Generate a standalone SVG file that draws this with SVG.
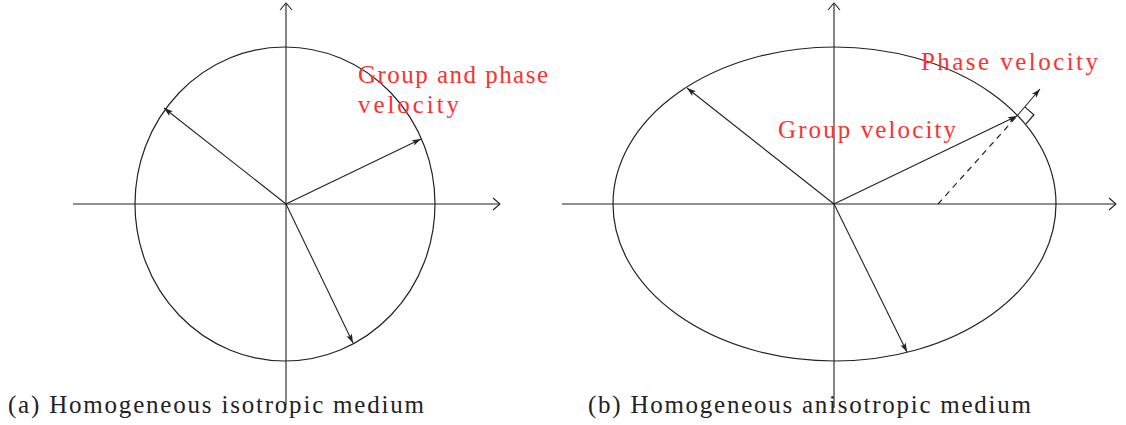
<svg xmlns="http://www.w3.org/2000/svg" width="1126" height="425" viewBox="0 0 1126 425">
<style>
.ln{stroke:#222;stroke-width:1.2;fill:none}
.vec{stroke:#222;stroke-width:1.1;fill:none;marker-end:url(#fa)}
.ax{stroke:#222;stroke-width:1.1;fill:none;marker-end:url(#oa)}
.lbl{font-family:"Liberation Serif","DejaVu Serif",serif;font-size:25px;fill:#ff3030}
.cap{font-family:"Liberation Serif","DejaVu Serif",serif;font-size:25px;fill:#222}
</style>
<defs>
<marker id="fa" markerWidth="10" markerHeight="8" refX="9" refY="4" orient="auto" markerUnits="userSpaceOnUse">
<path d="M0,1 L9,4 L0,7 L2,4 Z" fill="#222"/>
</marker>
<marker id="oa" markerWidth="10" markerHeight="14" refX="8" refY="7" orient="auto" markerUnits="userSpaceOnUse">
<path d="M1,1 L8,7 L1,13" fill="none" stroke="#222" stroke-width="1.1"/>
</marker>
</defs>
<g id="left">
<g id="left-axes">
<line class="ax" x1="73" y1="204" x2="500" y2="204"/>
<line class="ax" x1="286" y1="405" x2="286" y2="3"/>
</g>
<ellipse id="left-circle" class="ln" cx="285" cy="204" rx="150" ry="157"/>
<g id="left-vectors">
<line class="vec" x1="286" y1="204" x2="164" y2="108"/>
<line class="vec" x1="286" y1="204" x2="421" y2="139"/>
<line class="vec" x1="286" y1="204" x2="353" y2="343"/>
</g>
<text class="lbl" x="358" y="83" textLength="190" lengthAdjust="spacing">Group and phase</text>
<text class="lbl" x="358" y="113" textLength="101" lengthAdjust="spacing">velocity</text>
<text class="cap" x="8" y="413" textLength="416" lengthAdjust="spacing">(a) Homogeneous isotropic medium</text>
</g>
<g id="right">
<g id="right-axes">
<line class="ax" x1="562" y1="204" x2="1116" y2="204"/>
<line class="ax" x1="834" y1="408" x2="834" y2="3"/>
</g>
<ellipse id="right-ellipse" class="ln" cx="834.5" cy="204" rx="221.5" ry="157"/>
<g id="right-vectors">
<line class="vec" x1="834" y1="204" x2="687" y2="88"/>
<line class="vec" x1="834" y1="204" x2="1017" y2="116"/>
<line class="vec" x1="834" y1="204" x2="907" y2="352"/>
<line class="vec" x1="1017" y1="116" x2="1040" y2="89"/>
<line class="ln" x1="938" y1="204" x2="1017" y2="116" stroke-dasharray="6,5"/>
<path class="ln" d="M1024.8,106.9 L1033.9,114.7 L1026.1,123.8"/>
</g>
<text class="lbl" x="921" y="70" textLength="177" lengthAdjust="spacing">Phase velocity</text>
<text class="lbl" x="778" y="138" textLength="178" lengthAdjust="spacing">Group velocity</text>
<text class="cap" x="588" y="413" textLength="443" lengthAdjust="spacing">(b) Homogeneous anisotropic medium</text>
</g>
</svg>
